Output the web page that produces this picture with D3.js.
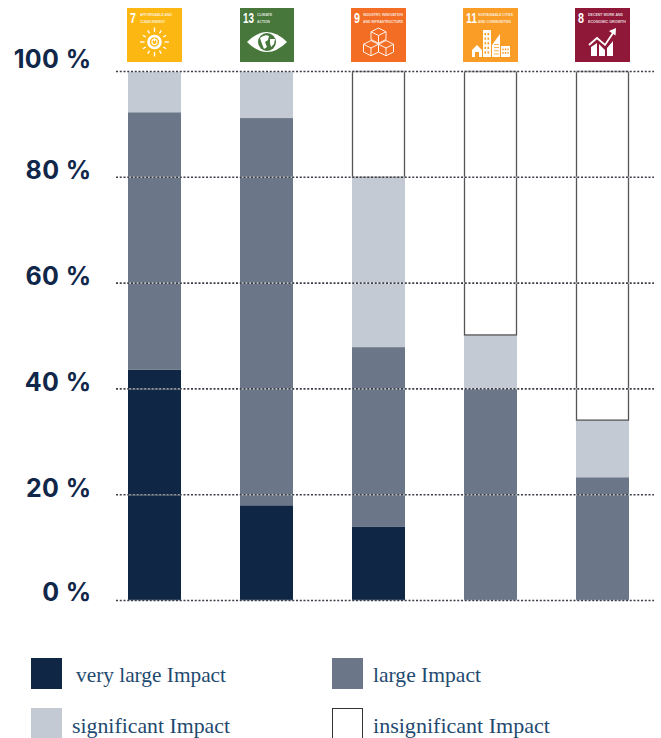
<!DOCTYPE html>
<html>
<head>
<meta charset="utf-8">
<script src="https://cdn.jsdelivr.net/npm/d3@7"></script>
<style>
  html, body { margin: 0; padding: 0; background: #fff; }
  svg { display: block; }
  .tick-label { font-family: "Inter", "Noto Sans", sans-serif; font-weight: 700; font-size: 25px; letter-spacing: 0.4px; fill: #11274a; }
  .legend-label { font-family: "Liberation Serif", serif; font-size: 22px; fill: #1f4a70; }
  .icon-number { font-family: "Liberation Sans", sans-serif; font-weight: 700; font-size: 14px; fill: #fff; }
  .icon-title { font-family: "Liberation Sans", sans-serif; font-weight: 700; font-size: 4.4px; fill: #fff; opacity: .8; }
</style>
</head>
<body>
<svg width="661" height="738"></svg>
<script>
"use strict";

const goals = ["7", "13", "9", "11", "8"];
const goalTitles = [
  ["AFFORDABLE AND", "CLEAN ENERGY"],
  ["CLIMATE", "ACTION"],
  ["INDUSTRY, INNOVATION", "AND INFRASTRUCTURE"],
  ["SUSTAINABLE CITIES", "AND COMMUNITIES"],
  ["DECENT WORK AND", "ECONOMIC GROWTH"]
];
const goalColors = ["#fdb713", "#48773c", "#f36e24", "#fa9d26", "#8f1838"];

const impactLevels = ["very large Impact", "large Impact", "significant Impact", "insignificant Impact"];
const veryLarge = [43.6, 18, 14, 0, 0];
const large = [48.7, 73.2, 33.9, 40, 23.3];
const significant = [7.7, 8.8, 32.1, 10.2, 10.8];
const insignificant = [0, 0, 20, 49.8, 65.9];

const yTicks = [0, 20, 40, 60, 80, 100];
const tickFormat = d => `${d} %`;

const levelColors = ["#0f2645", "#6b7788", "#c3cad3", "#ffffff"];

const svg = d3.select("svg");

const xScale = d3.scaleBand()
  .domain(goals)
  .range([128, 629])
  .paddingInner(59 / 112)
  .paddingOuter(0);

const yScale = d3.scaleLinear().domain([0, 100]).range([600.5, 71.5]);

const rows = goals.map((goal, i) => ({
  goal,
  [impactLevels[0]]: veryLarge[i],
  [impactLevels[1]]: large[i],
  [impactLevels[2]]: significant[i],
  [impactLevels[3]]: insignificant[i]
}));

const stacked = d3.stack().keys(impactLevels)(rows);

// bars
const layers = svg.append("g")
  .selectAll("g")
  .data(stacked)
  .enter()
  .append("g")
  .attr("fill", (d, i) => levelColors[i]);

layers.selectAll("rect")
  .data(d => d.filter(p => p[1] > p[0]).map(p => ({ p, key: d.key })))
  .enter()
  .append("rect")
  .attr("x", d => xScale(d.p.data.goal) + (d.key === impactLevels[3] ? 0.5 : 0))
  .attr("y", d => yScale(d.p[1]))
  .attr("width", d => xScale.bandwidth() - (d.key === impactLevels[3] ? 1 : 0))
  .attr("height", d => yScale(d.p[0]) - yScale(d.p[1]))
  .attr("stroke", d => d.key === impactLevels[3] ? "#555" : "none")
  .attr("stroke-width", 1.3);

// dotted grid lines sit on top of the bars
const grid = svg.append("g").selectAll("g").data(yTicks).enter().append("g");

grid.append("line")
  .attr("x1", 116).attr("x2", 654)
  .attr("y1", d => yScale(d)).attr("y2", d => yScale(d))
  .attr("stroke", "#fff").attr("stroke-opacity", 0.55).attr("stroke-width", 1.6);

grid.append("line")
  .attr("x1", 116).attr("x2", 654)
  .attr("y1", d => yScale(d)).attr("y2", d => yScale(d))
  .attr("stroke", "#3a3f47").attr("stroke-width", 1.6).attr("stroke-dasharray", "2 1.75");

// y labels
const labelY = { 0: 601, 20: 497, 40: 391, 60: 285, 80: 179, 100: 68 };

svg.append("g")
  .selectAll("text")
  .data(yTicks)
  .enter()
  .append("text")
  .attr("class", "tick-label")
  .attr("x", 91.5)
  .attr("y", d => labelY[d])
  .attr("text-anchor", "end")
  .text(tickFormat);

// legend
const legendBoxes = [[31, 658], [332, 658], [31, 708], [332, 708]];
const legendText = [[76, 682], [373, 682], [72, 733], [373, 733]];
const legendWidths = [150, 108, 158, 177];

const legend = svg.append("g").selectAll("g").data(impactLevels).enter().append("g");

legend.append("rect")
  .attr("x", (d, i) => legendBoxes[i][0] + (i === 3 ? 0.5 : 0))
  .attr("y", (d, i) => legendBoxes[i][1] + (i === 3 ? 0.5 : 0))
  .attr("width", (d, i) => i === 3 ? 30 : 31)
  .attr("height", 31)
  .attr("fill", (d, i) => levelColors[i])
  .attr("stroke", (d, i) => i === 3 ? "#333" : "none");

legend.append("text")
  .attr("class", "legend-label")
  .attr("x", (d, i) => legendText[i][0])
  .attr("y", (d, i) => legendText[i][1])
  .attr("textLength", (d, i) => legendWidths[i])
  .attr("lengthAdjust", "spacingAndGlyphs")
  .text(d => d);

// SDG icons
const iconSize = 55;
const iconX = (d, i) => xScale(d) + xScale.bandwidth() / 2 - iconSize / 2 + (i === 1 ? 1 : 0);
const numberWidths = [6, 11, 6, 11, 6];
const titleStart = [13, 17, 12, 15, 13];
const titleWidths = [[32, 25], [15, 13], [40, 40], [35, 33], [35, 38]];

const icons = svg.append("g")
  .selectAll("g")
  .data(goals)
  .enter()
  .append("g")
  .attr("transform", (d, i) => `translate(${iconX(d, i)},8)`);

icons.append("rect")
  .attr("width", (d, i) => i === 1 ? 54 : iconSize)
  .attr("height", 54)
  .attr("fill", (d, i) => goalColors[i]);

icons.append("text")
  .attr("class", "icon-number")
  .attr("x", 3).attr("y", 15)
  .attr("textLength", (d, i) => numberWidths[i])
  .attr("lengthAdjust", "spacingAndGlyphs")
  .text(d => d);

icons.each(function(d, i) {
  const g = d3.select(this);
  goalTitles[i].forEach((line, j) => {
    g.append("text")
      .attr("class", "icon-title")
      .attr("x", titleStart[i])
      .attr("y", 8 + j * 6.5)
      .attr("textLength", titleWidths[i][j])
      .attr("lengthAdjust", "spacingAndGlyphs")
      .text(line);
  });
});

// 7: sun with power sign
const sun = d3.select(icons.nodes()[0]).append("g")
  .attr("transform", "translate(27.5,34)")
  .attr("stroke", "#fff").attr("fill", "none");
sun.append("circle").attr("r", 6).attr("stroke-width", 2.6);
sun.append("circle").attr("r", 2.6).attr("stroke-width", 1.1);
sun.append("line").attr("y1", -4.2).attr("y2", -0.8).attr("stroke-width", 1.1);
d3.range(12).forEach(i => {
  sun.append("line")
    .attr("y1", -10).attr("y2", i % 3 === 0 ? -14.5 : -13.5)
    .attr("stroke-width", 1.3)
    .attr("transform", `rotate(${i * 30})`);
});

// 13: eye with globe
const eye = d3.select(icons.nodes()[1]).append("g").attr("transform", "translate(27,34)");
eye.append("path").attr("d", "M-20,0 Q0,-20 20,0 Q0,20 -20,0Z").attr("fill", "#fff");
eye.append("circle").attr("r", 9).attr("fill", "#48773c");
eye.append("path").attr("d", "M-7,-4 Q-2,-8 2,-6 L1,-2 L-2,0 L0,5 L-3,7 L-5,2 Z M3,-3 L8,-3 L7,2 L4,5 L3,1 Z").attr("fill", "#fff");

// 9: stacked cubes
const cube = (g, x, y) => {
  g.append("path")
    .attr("transform", `translate(${x},${y})`)
    .attr("fill", "none").attr("stroke", "#fff").attr("stroke-width", 0.9)
    .attr("d", "M0,-7.5 L7.5,-3.75 L7.5,4 L0,7.75 L-7.5,4 L-7.5,-3.75 Z M-7.5,-3.75 L0,0 L7.5,-3.75 M0,0 L0,7.75");
};
const cubes = d3.select(icons.nodes()[2]).append("g");
cube(cubes, 27.5, 27.5);
cube(cubes, 20, 40);
cube(cubes, 35, 40);

// 11: buildings
const city = d3.select(icons.nodes()[3]).append("g").attr("fill", "#fff");
city.append("path").attr("d", "M9,49 L9,42 L14,37 L19,42 L19,49 L16,49 L16,44 L12,44 L12,49 Z");
city.append("rect").attr("x", 20).attr("y", 22).attr("width", 8).attr("height", 27);
city.append("path").attr("d", "M29,49 L29,37 L37,26 L37,49 Z");
city.append("rect").attr("x", 38).attr("y", 38).attr("width", 9).attr("height", 11);
const windows = city.append("g").attr("fill", "#fa9d26");
d3.range(5).forEach(r => d3.range(2).forEach(c => {
  windows.append("rect").attr("x", 21.5 + c * 3).attr("y", 25 + r * 4.6).attr("width", 1.6).attr("height", 2.2);
}));
d3.range(2).forEach(r => d3.range(3).forEach(c => {
  windows.append("rect").attr("x", 39.3 + c * 2.5).attr("y", 40.5 + r * 3.5).attr("width", 1.4).attr("height", 1.8);
}));
d3.range(4).forEach(r => {
  windows.append("rect").attr("x", 31).attr("y", 36 + r * 3.2).attr("width", 5).attr("height", 0.8);
});

// 8: growth chart
const growth = d3.select(icons.nodes()[4]).append("g").attr("fill", "#fff");
growth.append("path").attr("d", "M16,48 L16,39 L22,35 L22,48 Z M24,48 L24,36 L30,42 L30,48 Z M32,48 L32,40 L38,33 L38,48 Z");
growth.append("path").attr("d", "M14,37 L22,30 L30,37 L38,25").attr("fill", "none").attr("stroke", "#fff").attr("stroke-width", 1.8);
growth.append("path").attr("d", "M34,23 L41,20 L40.5,27.5 Z");
</script>
</body>
</html>
